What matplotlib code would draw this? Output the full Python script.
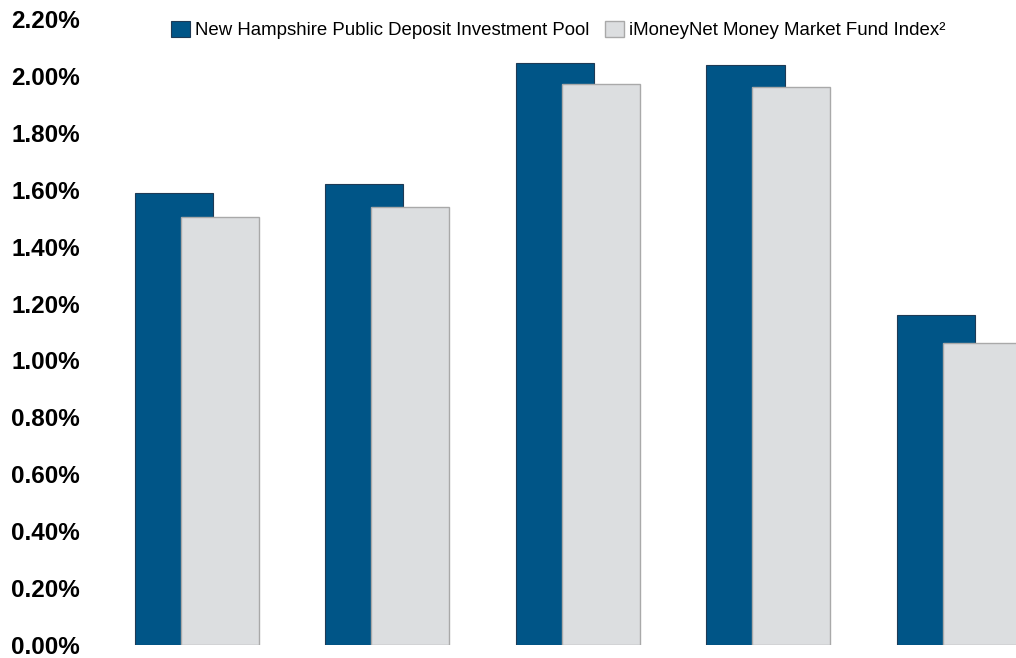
import numpy as np
import matplotlib.pyplot as plt
from matplotlib.ticker import FuncFormatter

# data
groups = np.arange(5)
pool = [1.59, 1.62, 2.045, 2.04, 1.16]
index = [1.505, 1.54, 1.97, 1.96, 1.063]
labels = ["New Hampshire Public Deposit Investment Pool",
          "iMoneyNet Money Market Fund Index\u00b2"]

blue = "#005587"
gray = "#DCDEE0"

plt.rcParams['font.family'] = ['Liberation Sans', 'DejaVu Sans']

fig = plt.figure(figsize=(10.16, 6.58), dpi=100)
ax = fig.add_axes([100 / 1016, 13 / 658, 916 / 1016, 626 / 658])

w = 0.41
d = 0.241
ax.bar(groups, pool, width=w, color=blue, edgecolor="#1E3A55", linewidth=0.8,
       label=labels[0], zorder=2)
ax.bar(groups + d, index, width=w, color=gray, edgecolor="#A9A9A9", linewidth=1.0,
       label=labels[1], zorder=3)

ax.set_ylim(0, 2.2)
ax.set_xlim(-0.388, 4.42)
ax.set_yticks(np.arange(0, 2.21, 0.2))
ax.yaxis.set_major_formatter(FuncFormatter(lambda v, p: f"{v:.2f}%"))
ax.tick_params(axis='y', length=0, pad=14.4, labelsize=17.5)
for t in ax.get_yticklabels():
    t.set_fontweight('bold')
ax.set_xticks([])
for s in ax.spines.values():
    s.set_visible(False)

leg = fig.legend(loc='center', bbox_to_anchor=(558 / 1016, 1 - 30 / 658), ncol=2,
                 frameon=False, fontsize=13.4, handlelength=1.02, handleheight=1.02,
                 handletextpad=0.27, columnspacing=0.86)

fig.savefig("out.png", dpi=100)
